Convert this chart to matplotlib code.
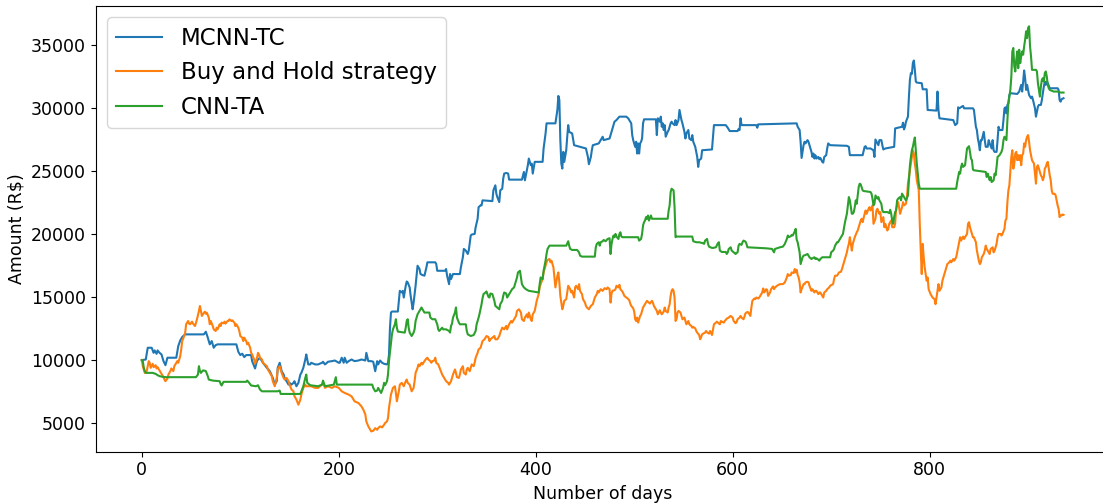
import matplotlib
matplotlib.use('Agg')
from matplotlib import pyplot as plt

# portfolio value per trading day, one (day, amount) pair per change point
mcnn_days = [
    0, 4, 6, 10, 12, 13, 15, 16, 18, 20, 22, 24, 26, 35, 37, 39, 41, 44, 63, 65, 67, 69, 71, 73, 75, 77, 96, 98,
    100, 102, 104, 106, 111, 112, 115, 117, 120, 123, 127, 130, 133, 135, 137, 138, 140, 142, 144, 145, 147, 149,
    150, 152, 154, 155, 157, 159, 161, 162, 164, 166, 167, 169, 171, 172, 176, 179, 183, 184, 186, 188, 189, 193,
    196, 200, 201, 203, 205, 206, 208, 210, 213, 216, 220, 223, 227, 228, 230, 233, 235, 237, 239, 240, 242, 244,
    246, 249, 250, 251, 252, 253, 254, 260, 261, 262, 264, 265, 266, 268, 269, 270, 272, 273, 274, 275, 276, 278,
    279, 280, 282, 283, 285, 287, 289, 290, 298, 299, 300, 308, 309, 310, 312, 313, 314, 316, 323, 324, 326, 327,
    329, 331, 332, 334, 335, 338, 339, 341, 342, 344, 345, 346, 356, 357, 359, 360, 361, 363, 364, 366, 367, 368,
    370, 372, 373, 386, 388, 389, 391, 392, 393, 395, 396, 397, 399, 407, 408, 410, 411, 420, 422, 423, 424, 425,
    426, 427, 428, 429, 431, 432, 433, 434, 437, 439, 451, 453, 454, 456, 457, 458, 464, 466, 468, 469, 475, 478,
    480, 482, 485, 492, 494, 495, 497, 498, 499, 501, 502, 503, 504, 505, 506, 507, 508, 509, 510, 522, 523, 524,
    526, 527, 528, 529, 530, 531, 532, 534, 535, 537, 538, 539, 541, 542, 543, 545, 546, 547, 548, 549, 551, 552,
    553, 555, 556, 558, 559, 560, 562, 563, 564, 565, 566, 568, 569, 579, 580, 581, 593, 595, 597, 605, 606, 607,
    608, 609, 624, 625, 626, 665, 666, 668, 669, 670, 671, 672, 673, 674, 676, 677, 678, 680, 681, 682, 683, 684,
    685, 687, 688, 689, 691, 692, 693, 695, 696, 697, 699, 716, 718, 719, 732, 734, 735, 736, 740, 743, 744, 745,
    747, 748, 749, 751, 752, 753, 755, 764, 765, 772, 773, 774, 775, 776, 778, 779, 780, 781, 782, 783, 784, 785,
    786, 787, 792, 793, 797, 798, 807, 808, 809, 810, 824, 826, 828, 829, 830, 834, 835, 844, 845, 847, 848, 849,
    850, 851, 852, 853, 855, 856, 857, 859, 860, 861, 863, 864, 865, 866, 868, 869, 870, 871, 874, 875, 876, 877,
    878, 879, 880, 881, 882, 889, 891, 893, 894, 895, 896, 897, 898, 899, 900, 901, 903, 904, 905, 907, 908, 909,
    910, 911, 913, 914, 916, 917, 918, 919, 920, 922, 930, 931, 932, 933, 934, 936,
]
mcnn_amount = [
    10000, 10050, 10980, 10980, 10580, 10770, 10500, 10770, 10580, 10450, 9920, 9600, 10190, 10190, 11110, 11560,
    11830, 12040, 12040, 12250, 11780, 11250, 11510, 10980, 11190, 11250, 11250, 10660, 10400, 10510, 10240, 10400,
    10400, 9920, 9340, 9970, 10190, 9790, 9390, 9120, 8590, 8060, 8330, 9390, 9790, 9120, 8860, 8590, 8330, 8060,
    8200, 8060, 8200, 8330, 7930, 8200, 8860, 8990, 9390, 10050, 10450, 9660, 9660, 9790, 9660, 9660, 9790, 9870,
    9660, 9790, 9870, 9920, 9970, 9790, 9790, 10190, 9790, 10190, 9790, 9920, 10050, 9920, 9970, 10050, 9970, 10580,
    9920, 9920, 9870, 9120, 9920, 9660, 9970, 9790, 9710, 9660, 9790, 10450, 12570, 13770, 13850, 13850, 14700,
    15490, 15360, 15490, 14960, 15890, 16230, 16160, 15760, 15090, 14560, 14030, 14560, 15890, 16690, 17480, 17220,
    16820, 16740, 16690, 17350, 17750, 17750, 17610, 17080, 17080, 17220, 16690, 16020, 16820, 16420, 16820, 16820,
    17350, 18150, 18810, 18680, 18410, 18680, 19870, 19950, 20000, 20530, 21200, 22120, 22260, 22260, 22660, 22600,
    23450, 23850, 23190, 22920, 22520, 23450, 23580, 24380, 24780, 24830, 24780, 24300, 24300, 24910, 24250, 25040,
    25440, 25970, 25440, 25570, 24780, 25710, 25710, 26770, 27960, 28760, 28760, 29820, 30930, 30610, 27430, 25570,
    25180, 26500, 25710, 26640, 27700, 28620, 28090, 27960, 27030, 26770, 26100, 25520, 26100, 26640, 27030, 27170,
    27430, 27700, 27430, 27560, 28360, 28890, 29020, 29290, 29290, 29150, 29020, 28760, 27830, 27430, 26900, 27300,
    26370, 27170, 26370, 27170, 27300, 27560, 28760, 29080, 29080, 27830, 29160, 28890, 29290, 28490, 28760, 28230,
    28620, 27700, 28090, 28230, 28760, 28890, 28760, 28620, 29020, 28620, 29020, 29820, 29420, 29020, 28760, 28090,
    27560, 27960, 28230, 27560, 27430, 27830, 27300, 26900, 26500, 26100, 25310, 25840, 25970, 26630, 26690, 27700,
    28620, 28620, 28410, 28150, 28150, 28310, 28230, 29160, 28620, 28620, 28410, 28680, 28760, 28490, 28230, 27300,
    26020, 26500, 27030, 27300, 27170, 27430, 27300, 27030, 26500, 26100, 26370, 25970, 26240, 25970, 26100, 25920,
    26020, 25710, 25650, 26100, 26240, 26770, 27170, 27030, 26980, 26900, 26240, 26240, 26900, 26950, 26770, 26770,
    26630, 26100, 27480, 27170, 27030, 27430, 27430, 27030, 26690, 26770, 26900, 28360, 28490, 28810, 28280, 28490,
    28890, 29290, 30880, 32210, 32740, 32680, 33530, 33740, 33000, 32070, 31990, 31940, 31460, 31460, 29820, 29770,
    31280, 29820, 29160, 29020, 28620, 28760, 30030, 29950, 30140, 29950, 29950, 29820, 28490, 28230, 27560, 27170,
    26630, 27430, 27430, 28090, 27430, 26900, 26900, 27430, 27170, 26770, 27430, 26630, 26500, 26500, 27430, 28490,
    28230, 28230, 29020, 29950, 30030, 29550, 30220, 30350, 31010, 31150, 31090, 31280, 31810, 31280, 32070, 32950,
    32340, 31410, 31810, 31410, 31010, 30750, 30880, 30610, 29950, 29290, 29690, 30080, 30220, 30220, 30610, 31680,
    32070, 31810, 32070, 31940, 31540, 31540, 31410, 30610, 30480, 30670, 30750,
]

hold_days = [
    0, 1, 3, 5, 7, 8, 9, 11, 12, 14, 15, 16, 18, 20, 22, 23, 24, 26, 27, 29, 30, 32, 33, 35, 36, 37, 39, 40, 41,
    43, 44, 45, 47, 48, 49, 51, 52, 54, 55, 56, 58, 59, 60, 61, 62, 64, 65, 66, 68, 69, 70, 72, 73, 75, 76, 77,
    79, 80, 81, 83, 84, 85, 87, 88, 89, 91, 92, 94, 95, 96, 98, 99, 100, 102, 103, 104, 106, 107, 108, 110, 111,
    112, 114, 115, 117, 118, 119, 120, 122, 123, 125, 127, 128, 130, 132, 133, 135, 137, 138, 140, 142, 144, 145,
    147, 149, 150, 152, 154, 155, 157, 159, 161, 162, 164, 166, 167, 169, 172, 176, 179, 183, 184, 186, 189, 193,
    196, 200, 203, 206, 210, 213, 216, 220, 223, 225, 227, 228, 230, 232, 233, 235, 237, 239, 240, 242, 244, 246,
    247, 249, 250, 251, 253, 254, 255, 257, 258, 259, 261, 262, 264, 265, 266, 268, 269, 270, 272, 273, 274, 276,
    277, 278, 280, 281, 282, 284, 285, 287, 289, 290, 291, 293, 294, 295, 297, 298, 299, 301, 303, 305, 307, 309,
    311, 312, 314, 315, 316, 318, 319, 320, 322, 323, 324, 326, 327, 329, 330, 331, 333, 334, 335, 337, 338, 339,
    341, 342, 344, 345, 346, 348, 349, 350, 352, 353, 354, 356, 358, 359, 361, 363, 364, 366, 368, 370, 371, 373,
    375, 376, 378, 380, 381, 383, 385, 386, 388, 389, 391, 392, 393, 395, 396, 397, 399, 400, 401, 403, 404, 405,
    407, 408, 410, 411, 412, 414, 415, 416, 418, 419, 420, 422, 423, 424, 425, 427, 428, 429, 431, 432, 433, 435,
    436, 437, 439, 440, 441, 443, 444, 445, 447, 448, 450, 451, 452, 454, 455, 456, 458, 459, 460, 462, 463, 464,
    466, 468, 470, 472, 473, 475, 476, 477, 478, 480, 481, 482, 484, 485, 486, 488, 489, 490, 492, 493, 495, 496,
    497, 499, 500, 501, 502, 503, 504, 505, 506, 507, 508, 509, 511, 512, 513, 515, 516, 518, 519, 520, 522, 523,
    524, 526, 527, 528, 530, 531, 532, 534, 535, 536, 537, 538, 539, 540, 541, 542, 543, 544, 545, 547, 548, 549,
    551, 552, 553, 555, 556, 558, 559, 560, 562, 563, 564, 566, 567, 568, 569, 570, 572, 573, 574, 576, 577, 579,
    580, 581, 583, 584, 585, 587, 588, 589, 591, 592, 594, 596, 597, 598, 600, 601, 603, 604, 605, 607, 608, 609,
    611, 612, 613, 615, 616, 618, 619, 620, 622, 623, 624, 626, 627, 628, 630, 631, 632, 634, 635, 636, 638, 639,
    641, 642, 643, 645, 646, 648, 651, 653, 655, 656, 657, 659, 660, 662, 663, 664, 665, 666, 667, 668, 669, 670,
    672, 673, 674, 676, 677, 678, 680, 681, 683, 684, 685, 687, 688, 689, 691, 692, 693, 695, 696, 698, 699, 700,
    702, 703, 704, 706, 707, 708, 710, 711, 712, 713, 714, 715, 716, 717, 718, 719, 720, 721, 722, 723, 724, 726,
    727, 728, 730, 731, 732, 734, 735, 736, 738, 739, 740, 742, 743, 745, 746, 747, 749, 750, 751, 753, 754, 755,
    757, 758, 759, 761, 762, 764, 765, 766, 768, 769, 770, 772, 773, 774, 776, 777, 778, 780, 781, 782, 783, 784,
    785, 786, 787, 789, 790, 791, 792, 793, 794, 795, 797, 798, 799, 801, 802, 803, 805, 806, 808, 809, 810, 812,
    813, 814, 816, 817, 818, 820, 821, 822, 824, 825, 827, 828, 829, 831, 832, 834, 835, 836, 838, 839, 840, 841,
    843, 844, 845, 847, 848, 849, 850, 851, 852, 853, 855, 856, 857, 858, 859, 861, 862, 864, 865, 866, 868, 869,
    870, 872, 873, 874, 876, 877, 878, 879, 880, 881, 882, 883, 884, 885, 886, 887, 888, 889, 890, 891, 892, 893,
    894, 895, 896, 897, 898, 899, 900, 901, 902, 903, 904, 905, 906, 907, 908, 909, 910, 912, 913, 914, 915, 916,
    917, 918, 919, 920, 921, 922, 923, 924, 925, 927, 928, 929, 930, 931, 932, 933, 934, 935, 936,
]
hold_amount = [
    10000, 9520, 8990, 9130, 9920, 9790, 9390, 9710, 9440, 9600, 9340, 9440, 9180, 8910, 8650, 8460, 8330, 8540,
    8860, 9130, 9340, 9130, 9520, 9790, 9920, 9790, 10320, 10850, 11510, 11910, 12170, 12840, 13100, 12890, 12840,
    13050, 12890, 12700, 12970, 13230, 13900, 14290, 13900, 13500, 13630, 13840, 13680, 13760, 13370, 12840, 13100,
    12700, 12440, 12310, 12570, 12440, 12840, 12700, 12970, 12920, 13050, 12890, 13100, 13100, 13230, 13100, 13150,
    12970, 12700, 12840, 12570, 12310, 11910, 11780, 11510, 11780, 11510, 11250, 11380, 10980, 10580, 10450, 10050,
    9710, 10190, 10580, 10450, 10190, 10050, 9790, 9660, 9520, 9260, 8990, 8730, 8330, 7930, 8590, 9260, 9520, 8990,
    8590, 8460, 8590, 8330, 8060, 7670, 7530, 7140, 6870, 6470, 6870, 7270, 7800, 8060, 7930, 7930, 7930, 7800, 7800,
    8060, 8200, 7800, 7930, 7800, 7930, 7800, 7530, 7400, 7270, 7130, 6740, 6600, 6340, 6070, 5680, 5140, 4750, 4480,
    4350, 4400, 4610, 4480, 4610, 4750, 4670, 4880, 5010, 5150, 5410, 6210, 7270, 7530, 7800, 7930, 7400, 6740, 7530,
    8060, 8200, 8060, 7930, 8330, 8460, 8200, 8060, 7800, 7530, 7800, 8330, 8990, 9390, 9660, 9520, 9790, 9660, 9920,
    10130, 10190, 10050, 9920, 9790, 9920, 9970, 10190, 9790, 9660, 9260, 8860, 8590, 8330, 8200, 8060, 8330, 8590,
    8860, 9260, 8990, 8650, 8590, 8860, 9260, 9520, 8990, 8860, 9260, 9390, 9120, 9390, 9660, 9520, 9790, 10190,
    10580, 10850, 10980, 11250, 11510, 11650, 11780, 11910, 11830, 11510, 11650, 11780, 11910, 11650, 11650, 11910,
    12180, 12570, 12440, 12710, 12440, 12840, 13100, 12970, 13240, 13500, 13900, 14030, 13770, 13240, 13100, 13370,
    13630, 13370, 13770, 13240, 13100, 13630, 13900, 14300, 14700, 15230, 15760, 16020, 16420, 16950, 17480, 17750,
    17930, 18010, 17750, 17880, 17350, 16550, 15760, 16690, 16950, 16150, 15090, 14030, 14300, 14700, 14830, 15360,
    15890, 15620, 15360, 15490, 14960, 15760, 15890, 15620, 16020, 15490, 15230, 14830, 14560, 14300, 14170, 14030,
    14170, 14300, 14430, 14700, 14960, 15230, 15490, 15360, 15620, 15490, 15700, 15620, 15760, 15620, 14560, 15280,
    15490, 15540, 15620, 15890, 15760, 15970, 15620, 15440, 15280, 15090, 14960, 14910, 14750, 14480, 14300, 14110,
    13850, 13240, 13100, 13370, 12970, 13240, 13500, 13630, 13900, 14170, 14430, 14560, 14700, 14560, 14480, 14700,
    14560, 14300, 14030, 13900, 13630, 13950, 13770, 13630, 13850, 14170, 13900, 13770, 14170, 14430, 15090, 15490,
    15620, 15490, 14960, 13100, 13240, 13770, 13900, 13770, 13500, 13240, 13370, 13100, 12840, 13100, 12840, 12710,
    12570, 12630, 12520, 12310, 12180, 11990, 11650, 11830, 12040, 12100, 12180, 12310, 12200, 12100, 12310, 11990,
    12440, 12840, 12970, 13050, 12970, 12840, 13100, 13050, 12970, 13100, 13290, 13370, 13450, 13500, 13370, 13100,
    12920, 13020, 13240, 13370, 13500, 13370, 13240, 13450, 13710, 13820, 13770, 13500, 14170, 14700, 14880, 14830,
    14960, 14880, 14960, 15090, 15360, 15680, 15360, 15620, 15570, 15090, 15360, 15620, 15840, 15620, 15760, 15890,
    15940, 16020, 16020, 16160, 16550, 16820, 16690, 16740, 16950, 16900, 17220, 16950, 17160, 16740, 16550, 16160,
    15360, 15620, 16020, 16020, 16160, 16210, 16160, 15890, 15490, 15620, 15360, 15490, 15490, 15230, 15360, 15360,
    15090, 14960, 15360, 15490, 15620, 15760, 15890, 15940, 16020, 16420, 16690, 16690, 16820, 16950, 17000, 17220,
    17480, 17750, 18010, 18280, 18540, 18940, 19210, 19740, 19210, 18680, 19210, 19470, 19740, 20130, 20270, 20530,
    21060, 21200, 20930, 21590, 21860, 21590, 21990, 22120, 21860, 22260, 20800, 21200, 21860, 21990, 21590, 21730,
    20930, 21330, 20530, 20800, 20270, 20400, 20800, 21060, 20530, 20530, 20800, 21990, 22520, 22120, 21590, 22120,
    22520, 22260, 22390, 22920, 23980, 25040, 25570, 26100, 26630, 26370, 25570, 25040, 24250, 23450, 20800, 18680,
    16820, 19210, 18150, 17350, 16290, 16550, 15620, 15230, 15090, 14960, 14830, 14430, 15490, 16020, 15490, 15760,
    16290, 16550, 17080, 17350, 17610, 17750, 17880, 17750, 18010, 17880, 18150, 18540, 18940, 19740, 19470, 19790,
    19600, 19740, 20000, 20800, 20930, 20530, 20000, 19740, 19740, 19340, 18680, 18280, 17880, 17610, 17750, 18150,
    18410, 18680, 19070, 18810, 18680, 18410, 18810, 18940, 18540, 18680, 19210, 19740, 20000, 20000, 19870, 20000,
    20400, 21060, 21200, 22520, 23450, 23850, 25040, 26100, 26630, 25170, 25570, 26370, 26500, 25840, 26240, 25840,
    26240, 25440, 26240, 26370, 27170, 26900, 27430, 27700, 27830, 27300, 26630, 26240, 25840, 25710, 25570, 24780,
    23980, 25310, 25440, 24910, 24640, 24510, 24250, 24510, 25180, 25310, 25570, 25710, 25180, 24640, 24250, 23450,
    23180, 23180, 23050, 22650, 22260, 21990, 21330, 21460, 21460, 21540, 21510,
]

cnn_ta_days = [
    0, 1, 2, 3, 4, 11, 14, 16, 18, 21, 24, 55, 57, 58, 59, 60, 62, 63, 65, 67, 68, 72, 79, 80, 81, 83, 106, 107,
    109, 111, 116, 118, 120, 122, 138, 140, 141, 161, 162, 164, 166, 167, 168, 171, 179, 183, 184, 186, 195, 197,
    198, 234, 235, 237, 239, 240, 242, 243, 245, 246, 247, 249, 250, 251, 253, 254, 255, 257, 258, 259, 260, 267,
    268, 269, 270, 271, 272, 273, 274, 276, 277, 278, 280, 281, 282, 284, 285, 287, 292, 293, 295, 298, 300, 301,
    302, 305, 306, 309, 312, 313, 314, 315, 316, 318, 319, 320, 322, 323, 329, 330, 331, 334, 337, 339, 340, 342,
    343, 345, 346, 347, 349, 350, 352, 353, 354, 356, 358, 359, 361, 363, 364, 366, 367, 368, 370, 371, 373, 374,
    376, 378, 380, 381, 382, 384, 385, 386, 388, 390, 393, 403, 404, 405, 407, 408, 410, 411, 412, 414, 431, 433,
    434, 435, 437, 442, 444, 445, 447, 460, 461, 462, 464, 465, 466, 468, 469, 471, 473, 475, 476, 477, 478, 479,
    480, 481, 482, 484, 485, 486, 487, 488, 504, 505, 507, 508, 509, 510, 511, 512, 513, 514, 515, 517, 518, 534,
    535, 536, 537, 538, 540, 541, 542, 543, 559, 560, 563, 566, 570, 571, 572, 574, 575, 576, 579, 580, 583, 585,
    586, 587, 589, 593, 594, 595, 596, 598, 599, 601, 603, 604, 605, 606, 607, 609, 610, 611, 613, 614, 615, 634,
    640, 642, 643, 645, 648, 651, 653, 655, 656, 657, 659, 660, 661, 663, 664, 665, 666, 667, 668, 669, 670, 671,
    672, 674, 676, 677, 678, 680, 681, 683, 684, 685, 687, 688, 689, 691, 699, 700, 702, 703, 704, 706, 707, 708,
    710, 711, 712, 714, 716, 718, 719, 720, 721, 722, 723, 724, 725, 726, 727, 728, 729, 730, 732, 733, 740, 741,
    742, 743, 744, 745, 747, 748, 749, 751, 752, 753, 757, 759, 760, 761, 762, 763, 764, 765, 766, 767, 768, 770,
    771, 772, 774, 775, 776, 778, 779, 780, 781, 782, 783, 784, 785, 786, 787, 788, 789, 790, 827, 828, 829, 830,
    831, 832, 833, 834, 836, 837, 838, 840, 841, 842, 843, 844, 845, 857, 858, 859, 861, 862, 863, 865, 866, 867,
    868, 869, 871, 872, 873, 874, 875, 876, 878, 879, 880, 881, 882, 883, 884, 885, 886, 887, 888, 889, 890, 891,
    892, 893, 894, 895, 896, 897, 898, 899, 900, 901, 902, 903, 904, 908, 909, 910, 911, 912, 913, 914, 915, 916,
    917, 918, 919, 920, 921, 922, 926, 930, 933, 936,
]
cnn_ta_amount = [
    10000, 9920, 9390, 9130, 8990, 8990, 8910, 8810, 8730, 8680, 8650, 8650, 8860, 9520, 9130, 8990, 9180, 9180,
    9130, 8730, 8460, 8380, 8330, 8120, 7990, 8280, 8280, 8380, 8200, 7990, 7930, 8010, 7670, 7530, 7530, 7590,
    7320, 7320, 7530, 7930, 8590, 8860, 8200, 8010, 7930, 8060, 8380, 7930, 8060, 8650, 8060, 8060, 7800, 7530,
    7590, 7800, 7530, 7400, 7800, 8200, 8010, 8330, 8860, 9920, 11380, 12040, 12440, 12840, 13240, 12570, 12260,
    12180, 12570, 13100, 13240, 12570, 12180, 12040, 11910, 12180, 12440, 13100, 13630, 13770, 13900, 14170, 14030,
    13770, 13770, 13370, 13240, 13240, 12840, 12440, 12310, 12570, 12440, 12440, 12310, 12180, 12710, 12890, 13370,
    13770, 14170, 13370, 12970, 12840, 12840, 12310, 12040, 11910, 11990, 12310, 12840, 13370, 13690, 14430, 14910,
    15230, 15360, 15440, 15010, 14960, 15280, 15230, 14700, 14300, 14170, 14030, 14430, 14700, 15090, 15360, 15280,
    14960, 15230, 15360, 15620, 15760, 16290, 16550, 16950, 17080, 16550, 16020, 15760, 15620, 15490, 15360, 16020,
    16550, 16420, 17080, 17880, 18410, 18810, 19070, 19070, 19420, 19070, 18810, 18730, 18730, 18540, 18280, 18200,
    18200, 18940, 19210, 19340, 19070, 19340, 19420, 19520, 19420, 19600, 19660, 18410, 19210, 19600, 19870, 19740,
    20000, 19790, 19600, 20000, 20130, 19790, 19740, 19740, 19470, 19600, 20000, 20670, 20930, 21060, 21330, 21200,
    21460, 21060, 21460, 21200, 21200, 21860, 22260, 23320, 23580, 23450, 22120, 19740, 19790, 19790, 19420, 19340,
    19340, 19260, 19210, 19470, 19600, 19210, 18990, 18890, 18890, 18940, 19260, 19340, 18680, 18570, 18570, 18410,
    18540, 18810, 18940, 18680, 18540, 18410, 18490, 18540, 19070, 19210, 19130, 19340, 19470, 19390, 19210, 18940,
    18860, 18810, 18540, 18810, 18860, 18940, 18990, 19210, 19600, 19870, 19740, 19820, 19920, 19870, 20190, 20400,
    19550, 19340, 18940, 18540, 17610, 17880, 18150, 18280, 18330, 18410, 18280, 18150, 18010, 18070, 18150, 18010,
    18070, 17960, 17880, 18010, 18150, 18150, 18540, 18680, 18810, 19070, 19340, 19340, 19470, 19740, 19870, 20000,
    20900, 21600, 22920, 22660, 22120, 21600, 21600, 21730, 22120, 22660, 22390, 23050, 23720, 23980, 23930, 23450,
    23400, 23320, 23190, 22790, 22260, 22390, 23050, 22790, 22920, 22660, 22390, 21860, 21730, 21730, 21650, 21910,
    21590, 21060, 20800, 21330, 21730, 21860, 22660, 22790, 22920, 22660, 23190, 22920, 22790, 22660, 23050, 24250,
    25440, 26100, 26630, 26900, 27300, 27640, 26630, 25570, 24780, 23980, 23580, 23580, 24110, 24510, 24910, 24780,
    25310, 25570, 25310, 25440, 26100, 26770, 26950, 26500, 25970, 25840, 25100, 25040, 24910, 24510, 24780, 24250,
    24510, 24110, 24250, 24780, 24640, 25310, 26100, 26240, 26370, 26500, 26770, 27430, 27700, 27430, 29020, 30350,
    30880, 31410, 32470, 34460, 34730, 33270, 32870, 33800, 34460, 33130, 34590, 33530, 34060, 34460, 34200, 34860,
    35390, 36050, 35520, 36320, 36450, 34860, 34060, 33000, 33000, 32870, 31940, 31410, 30880, 31680, 32210, 32340,
    32070, 32740, 32870, 32470, 31810, 31540, 31410, 31280, 31280, 31200, 31200,
]

fig = plt.figure(figsize=(11.03, 5.03), dpi=100)
# the plot area runs slightly past the right edge of the canvas
ax = fig.add_axes([0.0868, 0.102, 0.9192, 0.886])

ax.plot(mcnn_days, mcnn_amount, color='tab:blue', lw=1.5, label='MCNN-TC')
ax.plot(hold_days, hold_amount, color='tab:orange', lw=1.5, label='Buy and Hold strategy')
ax.plot(cnn_ta_days, cnn_ta_amount, color='tab:green', lw=1.5, label='CNN-TA')

ax.set_xlabel('Number of days', fontsize=12.5)
ax.set_ylabel('Amount (R$)', fontsize=12.5)
ax.tick_params(labelsize=12.5)
ax.legend(loc='upper left', fontsize=16.5)

fig.savefig('out.png', dpi=100)
